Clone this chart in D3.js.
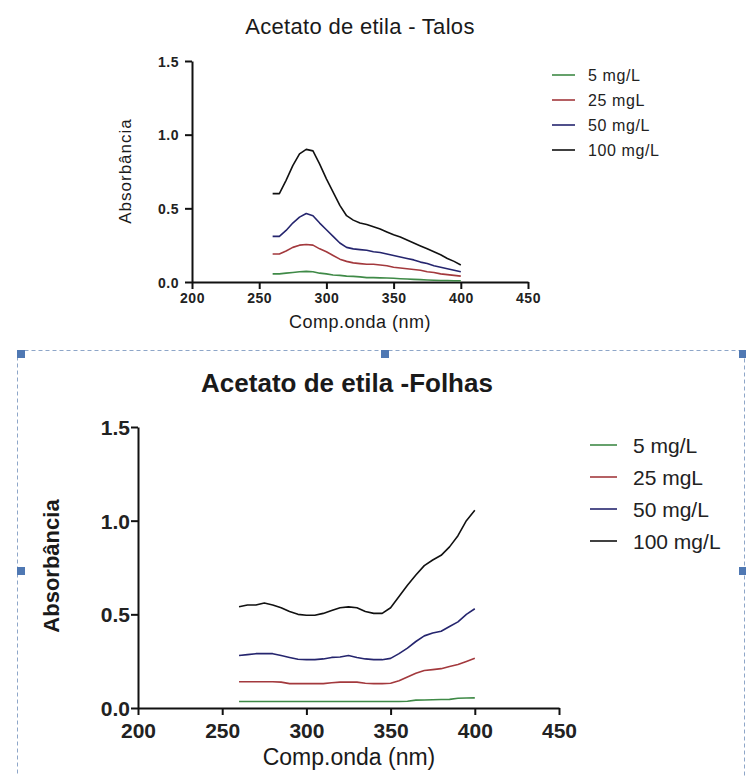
<!DOCTYPE html>
<html><head><meta charset="utf-8">
<script src="https://cdn.jsdelivr.net/npm/d3@7"></script>
<style>
html,body{margin:0;padding:0;background:#fff;}
svg{display:block;font-family:"Liberation Sans",Arial,sans-serif;}
</style></head><body>
<svg id="chart" width="746" height="776"></svg>
<script>
// ---------- data ----------
const wavelengths = [260,265,270,275,280,285,290,295,300,305,310,315,320,325,330,335,340,345,350,355,360,365,370,375,380,385,390,395,400];
const seriesLabels = ["5 mg/L","25 mgL","50 mg/L","100 mg/L"];
const seriesColors = ["#3f8a47","#a3393d","#25256e","#111111"];
const xTicks = [200,250,300,350,400,450];
const yTicks = [0.0,0.5,1.0,1.5];

// Acetato de etila - Talos
const talos5   = [0.055,0.055,0.06,0.065,0.07,0.072,0.07,0.06,0.055,0.048,0.045,0.04,0.038,0.035,0.03,0.03,0.028,0.027,0.025,0.022,0.02,0.018,0.016,0.014,0.012,0.01,0.01,0.008,0.008];
const talos25  = [0.19,0.19,0.21,0.235,0.25,0.255,0.25,0.225,0.205,0.18,0.155,0.14,0.13,0.125,0.12,0.12,0.115,0.11,0.10,0.095,0.09,0.085,0.08,0.07,0.065,0.055,0.05,0.045,0.04];
const talos50  = [0.31,0.31,0.35,0.40,0.44,0.465,0.45,0.40,0.355,0.31,0.265,0.235,0.225,0.22,0.215,0.205,0.20,0.19,0.18,0.17,0.16,0.15,0.135,0.125,0.11,0.10,0.09,0.08,0.07];
const talos100 = [0.60,0.60,0.69,0.79,0.87,0.90,0.89,0.80,0.70,0.61,0.52,0.45,0.42,0.40,0.39,0.375,0.36,0.34,0.32,0.305,0.285,0.265,0.245,0.225,0.205,0.185,0.16,0.14,0.115];

// Acetato de etila - Folhas
const folhas5   = [0.035,0.035,0.035,0.035,0.035,0.035,0.035,0.035,0.035,0.035,0.035,0.035,0.035,0.035,0.035,0.035,0.035,0.035,0.035,0.035,0.036,0.042,0.043,0.044,0.045,0.046,0.052,0.053,0.054];
const folhas25  = [0.14,0.14,0.14,0.14,0.14,0.138,0.13,0.13,0.13,0.13,0.13,0.135,0.138,0.138,0.138,0.132,0.13,0.13,0.132,0.145,0.165,0.185,0.20,0.205,0.21,0.222,0.232,0.248,0.265];
const folhas50  = [0.28,0.285,0.29,0.29,0.29,0.28,0.27,0.26,0.258,0.258,0.262,0.27,0.272,0.28,0.27,0.262,0.258,0.258,0.265,0.29,0.32,0.355,0.385,0.40,0.41,0.435,0.46,0.50,0.53];
const folhas100 = [0.54,0.55,0.55,0.56,0.55,0.535,0.515,0.50,0.495,0.495,0.505,0.52,0.535,0.54,0.535,0.515,0.505,0.505,0.535,0.595,0.655,0.71,0.76,0.79,0.815,0.86,0.92,1.0,1.055];

const svg = d3.select("#chart");

// ---------- selection frame around lower chart ----------
svg.append("rect").attr("x",17.5).attr("y",350.5).attr("width",727).attr("height",440)
  .attr("fill","none").attr("stroke","#8ea6c8").attr("stroke-width",1).attr("stroke-dasharray","4,3");
[[17,350],[381,350],[739,350],[17,567],[739,567]].forEach(p=>{
  svg.append("rect").attr("x",p[0]).attr("y",p[1]).attr("width",8).attr("height",8).attr("fill","#4f78b3");
});

function drawPanel(cfg){
  const g = svg.append("g");
  const x = d3.scaleLinear().domain([200,450]).range([cfg.x0,cfg.x1]);
  const y = d3.scaleLinear().domain([0,1.5]).range([cfg.y0,cfg.y1]);
  const line = d3.line().x((d,i)=>x(wavelengths[i])).y(d=>y(d));

  // x axis
  const xa = g.append("g").attr("transform",`translate(0,${cfg.y0})`)
    .call(d3.axisBottom(x).tickValues(xTicks).tickSize(cfg.tick).tickSizeOuter(0).tickFormat(d3.format("d")));
  // y axis
  const ya = g.append("g").attr("transform",`translate(${cfg.x0},0)`)
    .call(d3.axisLeft(y).tickValues(yTicks).tickSize(cfg.tick).tickSizeOuter(0).tickFormat(d3.format(".1f")));
  [xa,ya].forEach(a=>{
    a.attr("font-family",null).attr("font-size",cfg.tickFont).attr("font-weight","bold");
    a.select(".domain").attr("stroke","#111").attr("stroke-width",2);
    a.selectAll(".tick line").attr("stroke","#111").attr("stroke-width",2);
    a.selectAll(".tick text").attr("fill","#222").style("letter-spacing",cfg.tickLS+"px");
  });
  xa.selectAll(".tick text").attr("y",cfg.xLabOff).attr("dy",0);
  ya.selectAll(".tick text").attr("x",-cfg.yLabOff).attr("dy","0.36em");

  // series
  cfg.series.forEach((s,i)=>{
    g.append("path").attr("d",line(s)).attr("fill","none")
      .attr("stroke",seriesColors[i]).attr("stroke-width",cfg.lw).attr("stroke-linejoin","round");
  });

  // title
  g.append("text").attr("x",cfg.titleX).attr("y",cfg.titleY).attr("text-anchor","middle")
    .attr("font-size",cfg.titleFont).attr("font-weight",cfg.titleWeight).attr("fill","#1a1a1a")
    .style("letter-spacing",cfg.titleLS+"px").text(cfg.title);
  // x label
  g.append("text").attr("x",cfg.xlabX).attr("y",cfg.xlabY).attr("text-anchor","middle")
    .attr("font-size",cfg.xlabFont).attr("font-weight",cfg.xlabWeight).attr("fill","#1a1a1a")
    .style("letter-spacing",cfg.xlabLS+"px").text("Comp.onda (nm)");
  // y label
  g.append("text").attr("transform",`translate(${cfg.ylabX},${cfg.ylabY}) rotate(-90)`).attr("text-anchor","middle")
    .attr("font-size",cfg.ylabFont).attr("font-weight",cfg.ylabWeight).attr("fill","#1a1a1a")
    .style("letter-spacing",cfg.ylabLS+"px").text("Absorbância");

  // legend
  const lg = g.append("g");
  seriesLabels.forEach((lab,i)=>{
    const yy = cfg.legY + i*cfg.legStep;
    lg.append("line").attr("x1",cfg.legX).attr("x2",cfg.legX+cfg.legLen).attr("y1",yy).attr("y2",yy)
      .attr("stroke",seriesColors[i]).attr("stroke-width",1.6);
    lg.append("text").attr("x",cfg.legTextX).attr("y",yy).attr("dy","0.36em")
      .attr("font-size",cfg.legFont).attr("fill","#222").style("letter-spacing",cfg.legLS+"px").text(lab);
  });
}

drawPanel({
  x0:192, x1:528, y0:282, y1:61, tick:7, tickFont:14, tickLS:0.5, xLabOff:21, yLabOff:13, lw:1.6,
  series:[talos5,talos25,talos50,talos100],
  title:"Acetato de etila - Talos", titleX:360, titleY:34, titleFont:22, titleWeight:"normal", titleLS:0.3,
  xlabX:360, xlabY:328, xlabFont:18, xlabWeight:"normal", xlabLS:0.5,
  ylabX:131, ylabY:171, ylabFont:17, ylabWeight:"normal", ylabLS:1,
  legX:552, legLen:23, legTextX:588, legY:75, legStep:25, legFont:16, legLS:0.6
});

drawPanel({
  x0:138, x1:559, y0:708, y1:427, tick:7, tickFont:21, tickLS:0, xLabOff:30, yLabOff:8, lw:1.6,
  series:[folhas5,folhas25,folhas50,folhas100],
  title:"Acetato de etila -Folhas", titleX:347, titleY:392, titleFont:26, titleWeight:"bold", titleLS:0,
  xlabX:349, xlabY:765, xlabFont:23, xlabWeight:"normal", xlabLS:0,
  ylabX:59, ylabY:566, ylabFont:22, ylabWeight:"bold", ylabLS:0,
  legX:590, legLen:27, legTextX:633, legY:445, legStep:32, legFont:21, legLS:0
});
</script>
</body></html>
